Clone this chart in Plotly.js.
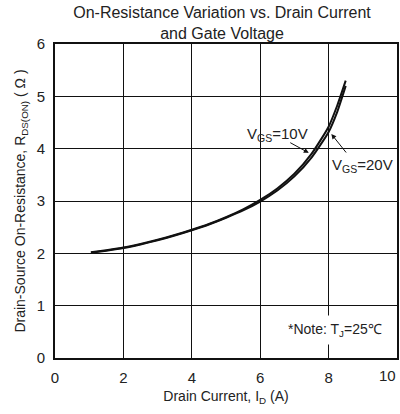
<!DOCTYPE html>
<html>
<head>
<meta charset="utf-8">
<script src="https://cdn.plot.ly/plotly-3.0.1.min.js"></script>
<style>html,body{margin:0;padding:0;background:#fff;}#chart{width:400px;height:414px;}</style>
</head>
<body>
<div id="chart"></div>
<script>
// Drain current (A)
const currentA = [1.05, 1.5, 2, 2.5, 3, 3.5, 4, 4.5, 5, 5.5, 6, 6.5, 7, 7.5, 8, 8.25, 8.5];
// R_DS(ON) (ohm) for VGS = 10 V
const rdsVgs10 = [2.02, 2.06, 2.11, 2.18, 2.26, 2.35, 2.45, 2.56, 2.69, 2.84, 3.02, 3.24, 3.52, 3.90, 4.42, 4.82, 5.30];
// R_DS(ON) (ohm) for VGS = 20 V
const rdsVgs20 = [2.01, 2.05, 2.10, 2.17, 2.25, 2.34, 2.44, 2.55, 2.68, 2.82, 2.99, 3.20, 3.47, 3.83, 4.32, 4.70, 5.20];

const xTickVals = [0, 2, 4, 6, 8, 10];
const xTickText = ['0', '2', '4', '6', '8', ''];
const yTickVals = [0, 1, 2, 3, 4, 5, 6];

const txt = '#222';
const fontFam = '"Liberation Sans", Arial, sans-serif';

const traces = [
  {x: currentA, y: rdsVgs10, mode: 'lines', line: {color: '#111', width: 2, shape: 'spline', smoothing: 0.6}, name: 'VGS=10V', hoverinfo: 'skip'},
  {x: currentA, y: rdsVgs20, mode: 'lines', line: {color: '#111', width: 2, shape: 'spline', smoothing: 0.6}, name: 'VGS=20V', hoverinfo: 'skip'}
];

const layout = {
  width: 400, height: 414,
  margin: {l: 55, r: 3, t: 44, b: 56},
  paper_bgcolor: '#fff', plot_bgcolor: '#fff',
  showlegend: false,
  font: {family: fontFam, color: txt, size: 14},
  title: {
    text: 'On-Resistance Variation vs. Drain Current<br>and Gate Voltage',
    font: {family: fontFam, size: 16, color: txt},
    x: 0.555, xref: 'container', xanchor: 'center',
    y: 0.957, yref: 'container', yanchor: 'middle'
  },
  xaxis: {
    range: [0, 10], tickvals: xTickVals, ticktext: xTickText,
    showgrid: true, gridcolor: '#111', gridwidth: 1,
    showline: true, linecolor: '#111', linewidth: 2, mirror: true,
    zeroline: false, ticks: '', ticklabelstandoff: 5,
    tickfont: {size: 15, color: txt},
    title: {text: 'Drain Current, I<sub>D</sub> (A)', font: {size: 14, color: txt}, standoff: 6}
  },
  yaxis: {
    range: [0, 6], tickvals: yTickVals,
    showgrid: true, gridcolor: '#111', gridwidth: 1,
    showline: true, linecolor: '#111', linewidth: 2, mirror: true,
    zeroline: false, ticks: '', ticklabelstandoff: 5,
    tickfont: {size: 15, color: txt},
    title: {text: 'Drain-Source On-Resistance, R<sub>DS(ON)</sub> ( Ω )', font: {size: 14, color: txt}, standoff: 8}
  },
  annotations: [
    {x: 10, y: 0, xref: 'x', yref: 'y', text: '10', showarrow: false, yanchor: 'top', xanchor: 'center', xshift: -10, yshift: -7, font: {size: 15, color: txt}},
    {x: 6.52, y: 4.27, xref: 'x', yref: 'y', text: 'V<sub>GS</sub>=10V', showarrow: false, font: {size: 15, color: txt}},
    {x: 7.42, y: 3.92, xref: 'x', yref: 'y', text: '', showarrow: true, arrowhead: 2, arrowsize: 1, arrowwidth: 1, arrowcolor: '#111', ax: -20, ay: -11, standoff: 0},
    {x: 8.98, y: 3.67, xref: 'x', yref: 'y', text: 'V<sub>GS</sub>=20V', showarrow: false, font: {size: 15, color: txt}},
    {x: 8.08, y: 4.28, xref: 'x', yref: 'y', text: '', showarrow: true, arrowhead: 2, arrowsize: 1, arrowwidth: 1, arrowcolor: '#111', ax: 16, ay: 20, standoff: 0},
    {x: 8.19, y: 0.54, xref: 'x', yref: 'y', text: '*Note: T<sub>J</sub>=25℃', showarrow: false, bgcolor: '#fff', borderpad: 5, font: {size: 14, color: txt}}
  ]
};

Plotly.newPlot('chart', traces, layout, {displayModeBar: false, staticPlot: true});
</script>
</body>
</html>
